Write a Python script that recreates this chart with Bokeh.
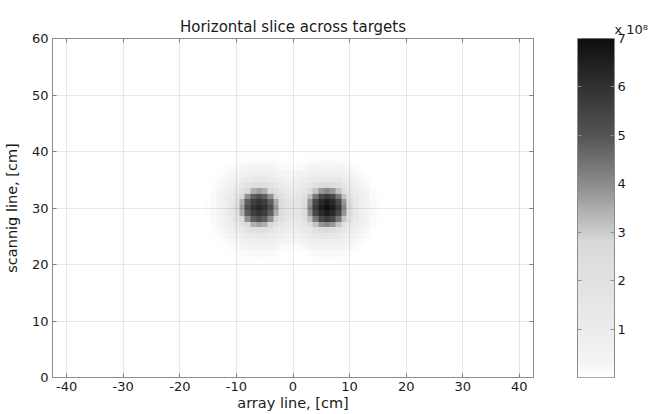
import numpy as np
from bokeh.plotting import figure
from bokeh.layouts import row
from bokeh.models import (LinearColorMapper, FixedTicker, LinearAxis, Range1d)
from bokeh.embed import file_html
from bokeh.resources import INLINE

# ---- data ----
target_x = [-6, 6]            # cm, array line
target_y = [30, 30]           # cm, scanning line
target_peak = [6.3, 7.0]      # x 1e8
# radial profile of one target (fraction of peak) vs distance in cm
profile_r = [0, 1, 2, 3, 4, 5, 6, 7, 8, 9, 10]
profile_v = [1.0, 0.94, 0.82, 0.58, 0.36, 0.21, 0.12, 0.065, 0.03, 0.01, 0.0]
# colour bar: value -> grey level
cbar_vals = [0, 0.3, 1, 2, 2.8, 3, 4, 5, 6, 7]
cbar_grey = [255, 245, 236, 226, 218, 205, 140, 85, 50, 15]
cbar_ticks = [1, 2, 3, 4, 5, 6, 7]
x_ticks = [-40, -30, -20, -10, 0, 10, 20, 30, 40]
x_tick_labels = ["-40", "-30", "-20", "-10", "0", "10", "20", "30", "40"]
y_ticks = [0, 10, 20, 30, 40, 50, 60]

# ---- build field on a 1 cm grid ----
xs = np.arange(-42, 43)
ys = np.arange(0, 61)
X, Y = np.meshgrid(xs, ys)
field = np.zeros_like(X, dtype=float)
for tx, ty, pk in zip(target_x, target_y, target_peak):
    d = np.hypot(X - tx, Y - ty)
    field += pk * np.interp(d, profile_r, profile_v)

# ---- palette ----
levels = np.interp(np.linspace(0, 7, 256), cbar_vals, cbar_grey).astype(int)
palette = ["#%02x%02x%02x" % (g, g, g) for g in levels]
mapper = LinearColorMapper(palette=palette, low=0, high=7)

FONT = "DejaVu Sans"
TXT = "#1a1a1a"
EDGE = "#8c8c8c"

p = figure(frame_width=481, frame_height=339, output_backend="svg",
           toolbar_location=None,
           x_range=Range1d(-42.5, 42.5), y_range=Range1d(0, 60),
           title="Horizontal slice across targets",
           min_border_left=52, min_border_top=38, min_border_right=8,
           min_border_bottom=37)
p.image(image=[field], x=-42.5, y=-0.5, dw=85, dh=61, color_mapper=mapper)

p.title.align = "center"
p.title.text_font = FONT
p.title.text_font_size = "15px"
p.title.text_font_style = "normal"
p.title.text_color = TXT
p.title.standoff = 5

p.outline_line_color = EDGE
for ax, ticks in ((p.xaxis[0], x_ticks), (p.yaxis[0], y_ticks)):
    ax.ticker = FixedTicker(ticks=ticks)
    ax.major_tick_in = 4
    ax.major_tick_out = 0
    ax.minor_tick_line_color = None
    ax.axis_line_color = EDGE
    ax.major_tick_line_color = EDGE
    ax.major_label_text_font = FONT
    ax.major_label_text_font_size = "13px"
    ax.major_label_text_color = TXT
    ax.axis_label_text_font = FONT
    ax.axis_label_text_font_size = "14.5px"
    ax.axis_label_text_font_style = "normal"
    ax.axis_label_text_color = TXT
p.xaxis.major_label_overrides = {t: s for t, s in zip(x_ticks, x_tick_labels)}
p.xaxis.axis_label = "array line, [cm]"
p.yaxis.axis_label = "scannig line, [cm]"
p.xaxis.axis_label_standoff = 1
p.yaxis.axis_label_standoff = 9
p.xaxis.major_label_standoff = 4
p.yaxis.major_label_standoff = 4

p.xgrid.ticker = FixedTicker(ticks=x_ticks)
p.ygrid.ticker = FixedTicker(ticks=y_ticks)
p.grid.grid_line_color = "#000000"
p.grid.grid_line_alpha = 0.09
p.grid.level = "overlay"

# mirrored tick axes (no labels)
for loc, ticks in (("above", x_ticks), ("right", y_ticks)):
    ax = LinearAxis(ticker=FixedTicker(ticks=ticks), major_tick_in=4,
                    major_tick_out=0, minor_tick_line_color=None,
                    axis_line_color=EDGE, major_tick_line_color=EDGE,
                    major_label_text_color=None, major_label_text_font_size="1px",
                    major_label_standoff=0)
    p.add_layout(ax, loc)

# ---- colour bar as its own small figure ----
grad = np.linspace(0, 7, 256).reshape(256, 1)
cb = figure(frame_width=37, frame_height=339, output_backend="svg",
            toolbar_location=None, x_range=Range1d(0, 1), y_range=Range1d(0, 7),
            y_axis_location="right", title="x 10\u2078",
            min_border_left=36, min_border_top=38, min_border_right=34,
            min_border_bottom=37)
cb.image(image=[grad], x=0, y=0, dw=1, dh=7, color_mapper=mapper)
cb.xaxis.visible = False
cb.grid.visible = False
cb.outline_line_color = EDGE
cb.title.text_font = FONT
cb.title.text_font_size = "13px"
cb.title.text_font_style = "normal"
cb.title.text_color = TXT
cb.title.align = "left"
cb.title.offset = 37
cb.title.standoff = 4
cby = cb.yaxis[0]
cby.ticker = FixedTicker(ticks=cbar_ticks)
cby.major_tick_in = 4
cby.major_tick_out = 0
cby.minor_tick_line_color = None
cby.axis_line_color = EDGE
cby.major_tick_line_color = EDGE
cby.major_label_text_font = FONT
cby.major_label_text_font_size = "13px"
cby.major_label_text_color = TXT
cby.major_label_standoff = 3
cb.add_layout(LinearAxis(ticker=FixedTicker(ticks=cbar_ticks), major_tick_in=4,
                         major_tick_out=0, minor_tick_line_color=None,
                         axis_line_color=EDGE, major_tick_line_color=EDGE,
                         major_label_text_color=None, major_label_text_font_size="1px",
                         major_label_standoff=0),
              "left")

layout = row(p, cb)
open("out.html", "w").write(file_html(layout, INLINE))
